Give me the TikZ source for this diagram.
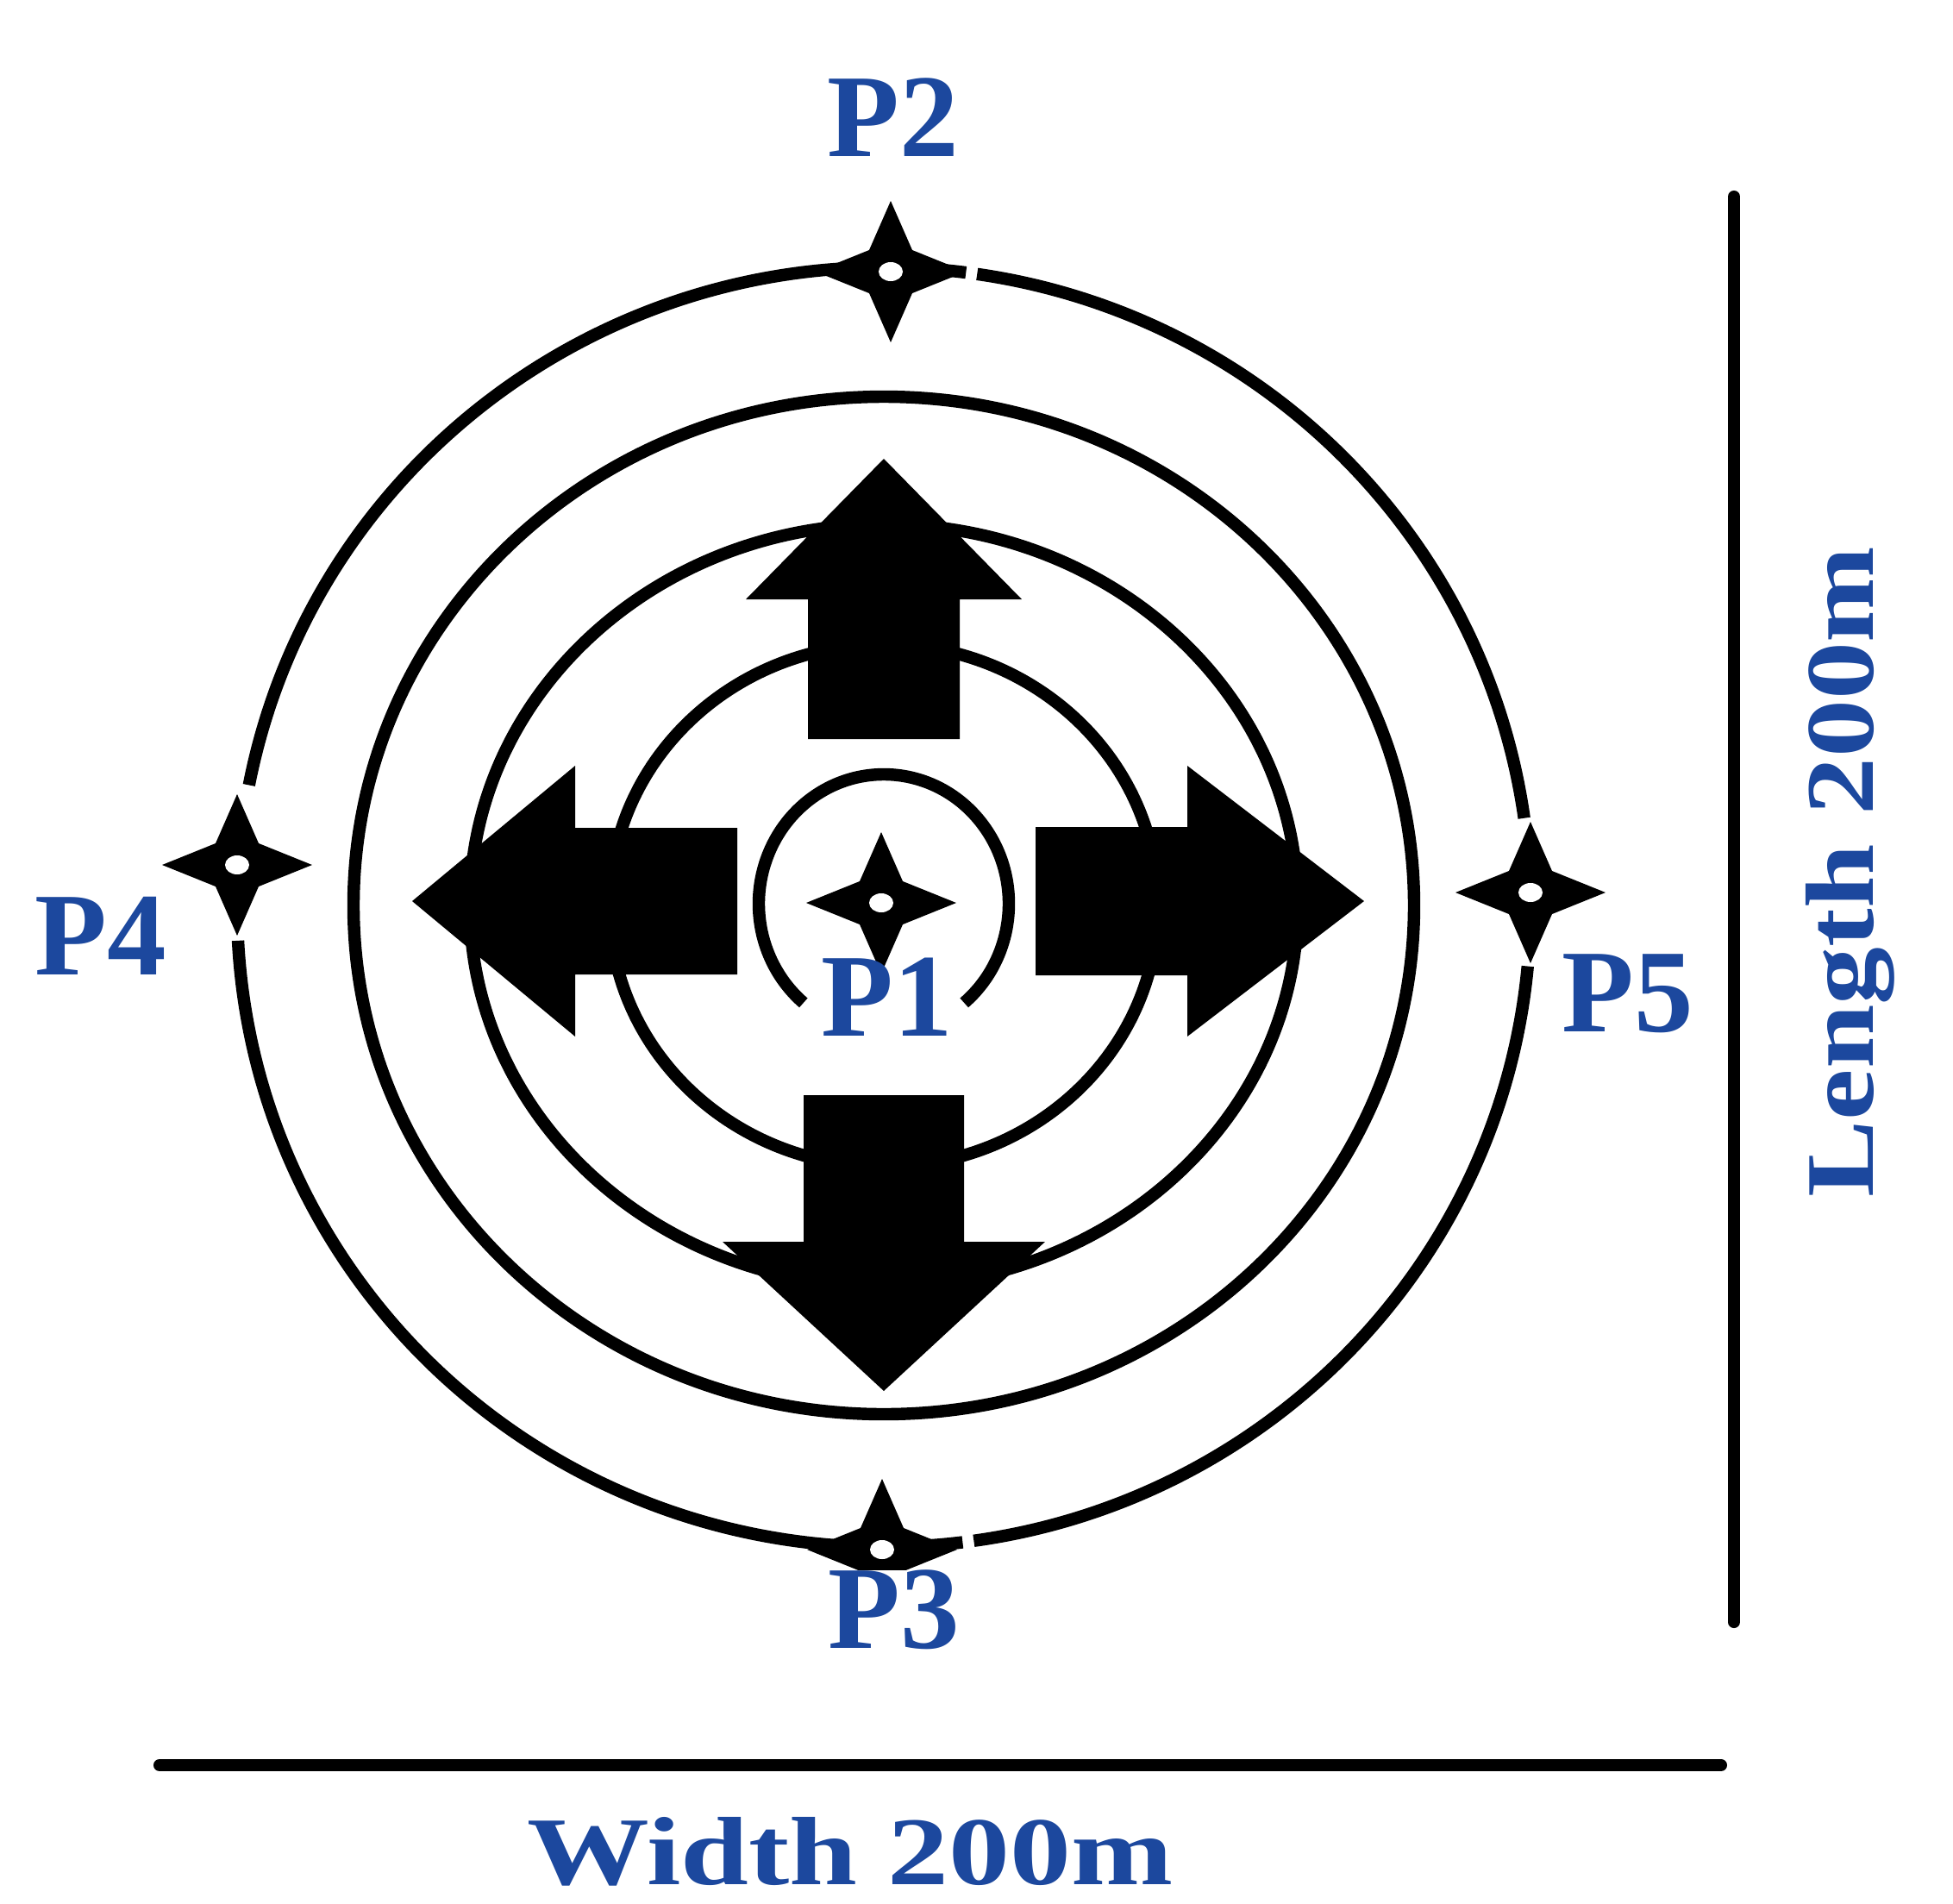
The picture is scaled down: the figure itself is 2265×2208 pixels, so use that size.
\documentclass[tikz,border=0pt]{standalone}
\usepackage{fontspec}
\setmainfont{Liberation Serif}
\definecolor{lblblue}{RGB}{28,72,158}
% one block arrow: angle, shaft start, shaft half width, head base, head half width, tip
\newcommand{\flowarrow}[6]{%
  \fill[rotate=#1] (#2,#3) -- (#4,#3) -- (#4,#5) -- (#6,0) -- (#4,-#5) -- (#4,-#3) -- (#2,-#3) -- cycle;}

\begin{document}
\begin{tikzpicture}[x=0.01cm,y=-0.01cm]
\tikzset{ring/.style={line width=4.1pt},
    bar/.style={line width=4pt, line cap=round},
    lbl/.style={text=lblblue, inner sep=0pt, font=\bfseries\fontsize{39}{44}\selectfont},
    dim/.style={text=lblblue, inner sep=0pt, font=\bfseries\fontsize{32}{36}\selectfont},
    pstar/.pic={
        \fill (87,0) -- (25,25) -- (0,82) -- (-25,25) -- (-87,0)
            -- (-25,-25) -- (0,-82) -- (25,-25) -- cycle;
        \fill[white] (0,0) ellipse[x radius=14, y radius=11];
    }}
\fill[white] (0,0) rectangle (2265,2208);
\useasboundingbox (0,0) rectangle (2265,2208);

\coordinate (o) at (1025,1052);
\coordinate (c) at (1025,1050);
\coordinate (h) at (1025,1048);

% outer ring, broken at the points
\foreach \a/\b in {-8/-81.7, -82.7/-169, -183/-277, -278/-354.7}
    \draw[ring] (o) ++(\a:750 and 742) arc[start angle=\a, end angle=\b, x radius=750, y radius=742];
% inner rings
\draw[ring] (c) ellipse[x radius=615, y radius=590];
\draw[ring] (c) ellipse[x radius=480, y radius=442];
\draw[ring] (c) ellipse[x radius=318, y radius=303];
\draw[ring] (h) ++(50:145 and 150) arc[start angle=50, end angle=-230, x radius=145, y radius=150];

% arrows
\begin{scope}[shift={(1025,1045)}]
\flowarrow{0}{176}{86}{352}{157}{557}
\flowarrow{90}{188}{88}{350}{160}{513}
\flowarrow{180}{170}{85}{358}{157}{547}
\flowarrow{270}{225}{93}{395}{187}{568}
\end{scope}

% sample points
\coordinate (p1) at (1022,1047);
\coordinate (p2) at (1033,315);
\coordinate (p3) at (1023,1797);
\coordinate (p4) at (275,1003);
\coordinate (p5) at (1775,1035);
\foreach \p in {p1,p2,p3,p4,p5}
    \pic at (\p) {pstar};

\node[lbl] (l1) at (1029,1156) {P1};
\node[lbl] (l2) at (1036,136) {P2};
\node[lbl, fill=white] (l3) at (1037,1867) {P3};
\node[lbl] (l4) at (117,1085) {P4};
\node[lbl] (l5) at (1888,1152) {P5};

% scale bars
\coordinate (lt) at (2011,228);
\coordinate (lb) at (2011,1881);
\coordinate (wl) at (185,2047);
\coordinate (wr) at (1996,2047);
\draw[bar] (lt) -- (lb);
\draw[bar] (wl) -- (wr);
\node[dim] (wd) at (986,2147) {\scalebox{1.26}[1]{Width 200m}};
\node[dim, rotate=90] (ln) at (2146,1011) {\scalebox{1.19}[1]{Length 200m}};
\end{tikzpicture}
\end{document}
